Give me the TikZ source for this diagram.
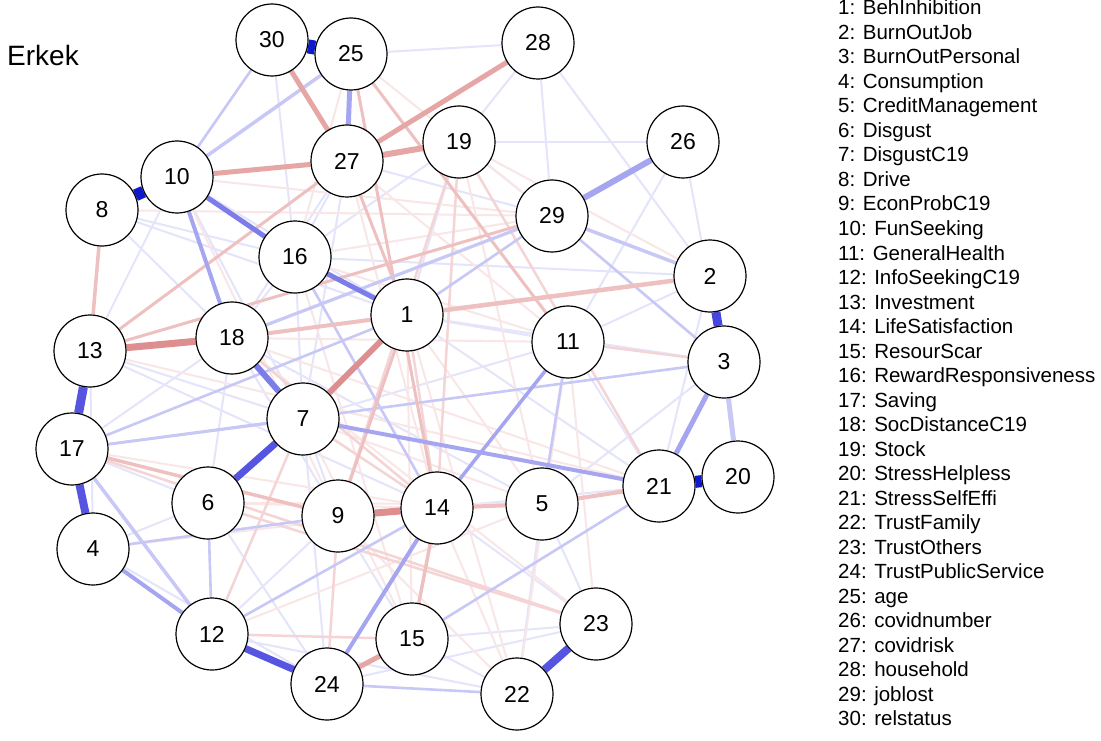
\documentclass[tikz,border=0pt]{standalone}
\usepackage{fontspec}
\setmainfont{Liberation Sans}
\pgfdeclarelayer{bg}
\pgfdeclarelayer{edges}
\pgfsetlayers{bg,edges,main}
\definecolor{b0}{RGB}{70,70,225}
\definecolor{b1}{RGB}{15,25,205}
\definecolor{b2}{RGB}{85,85,226}
\definecolor{b3}{RGB}{125,125,233}
\definecolor{b4}{RGB}{165,165,240}
\definecolor{b5}{RGB}{200,200,246}
\definecolor{b6}{RGB}{228,228,250}
\definecolor{r2}{RGB}{222,142,142}
\definecolor{r3}{RGB}{230,166,166}
\definecolor{r4}{RGB}{238,192,192}
\definecolor{r5}{RGB}{244,212,212}
\definecolor{r6}{RGB}{249,230,230}
\begin{document}
\begin{tikzpicture}[x=1pt,y=-1pt,
  nd/.style={circle,draw=black,line width=1.2pt,fill=white,minimum size=72pt,inner sep=0pt,font=\fontsize{23}{23}\selectfont},
  e/.style 2 args={draw=#1,line width=#2pt},
  leg/.style={anchor=base west,inner sep=0pt,font=\fontsize{20.5}{20.5}\selectfont}]
\useasboundingbox (0,0) rectangle (1101,741);
\begin{pgfonlayer}{bg}
\fill[white] (0,0) rectangle (1101,741);
\end{pgfonlayer}
% nodes
\node[nd] (n1) at (407,315) {1};
\node[nd] (n2) at (710,276) {2};
\node[nd] (n3) at (724,362) {3};
\node[nd] (n4) at (93,549) {4};
\node[nd] (n5) at (542,504) {5};
\node[nd] (n6) at (208,503) {6};
\node[nd] (n7) at (303,419) {7};
\node[nd] (n8) at (102,210) {8};
\node[nd] (n9) at (338,516) {9};
\node[nd] (n10) at (177,177) {10};
\node[nd] (n11) at (568,342) {11};
\node[nd] (n12) at (212,634) {12};
\node[nd] (n13) at (90,351) {13};
\node[nd] (n14) at (437,508) {14};
\node[nd] (n15) at (412,639) {15};
\node[nd] (n16) at (295,257) {16};
\node[nd] (n17) at (72,449) {17};
\node[nd] (n18) at (232,338) {18};
\node[nd] (n19) at (459,142) {19};
\node[nd] (n20) at (738,477) {20};
\node[nd] (n21) at (659,486) {21};
\node[nd] (n22) at (517,694) {22};
\node[nd] (n23) at (596,624) {23};
\node[nd] (n24) at (327,684) {24};
\node[nd] (n25) at (351,54) {25};
\node[nd] (n26) at (683,142) {26};
\node[nd] (n27) at (347,161) {27};
\node[nd] (n28) at (538,43) {28};
\node[nd] (n29) at (552,216) {29};
\node[nd] (n30) at (272,40) {30};
\node[anchor=base west,inner sep=0pt,font=\fontsize{28}{28}\selectfont] (title) at (7,66) {Erkek};
% legend
\foreach \i/\t in {1/BehInhibition,2/BurnOutJob,3/BurnOutPersonal,4/Consumption,5/CreditManagement,6/Disgust,7/DisgustC19,8/Drive,9/EconProbC19,10/FunSeeking,11/GeneralHealth,12/InfoSeekingC19,13/Investment,14/LifeSatisfaction,15/ResourScar,16/RewardResponsiveness,17/Saving,18/SocDistanceC19,19/Stock,20/StressHelpless,21/StressSelfEffi,22/TrustFamily,23/TrustOthers,24/TrustPublicService,25/age,26/covidnumber,27/covidrisk,28/household,29/joblost,30/relstatus}
  \node[leg] (l\i) at (838,{15+(\i-1)*24.5}) {\i: \t};
\begin{pgfonlayer}{edges}
% faint edges
\foreach \a/\b in {8/18,8/16,10/13,13/7,13/4,17/18,4/6,6/18,16/18,27/16,27/18,27/7,19/16,19/1,19/29,28/29,28/19,26/3,26/11,2/11,2/21,3/5,11/21,5/22,5/23,15/22,15/23,9/12,6/24,7/9,7/24,1/11,1/21,18/9,16/7,10/1,8/1,14/21,14/23,9/15,24/23,30/16,19/26,28/2,25/28,13/14,17/6,4/24,12/22,18/5,7/11,1/3,16/2,27/29,10/7}
  \draw[e={b6}{2}] (n\a) -- (n\b);
\foreach \a/\b in {8/29,10/29,16/29,18/11,16/11,7/5,7/15,6/14,6/5,17/14,13/21,18/21,1/5,1/15,11/22,11/23,9/22,14/22,27/11,25/29,19/2,12/5,4/14,10/9,25/16,27/14,19/5,16/15,18/23,1/22}
  \draw[e={r6}{2}] (n\a) -- (n\b);
% light edges
\foreach \a/\b in {11/3,12/7,12/15,24/9,6/23,19/9,19/21,19/14,7/14,18/14,1/14,17/23}
  \draw[e={r5}{2.5}] (n\a) -- (n\b);
\foreach \a/\b in {30/10,21/15,11/5,17/3,17/7,1/29,12/6,4/9,12/14,24/22,16/14,29/3,17/1}
  \draw[e={b5}{2.6}] (n\a) -- (n\b);
% medium edges
\draw[e={r4}{4.5}] (n1) -- (n2);
\draw[e={r4}{4}] (n18) -- (n1);
\draw[e={r4}{4}] (n14) -- (n5);
\draw[e={r4}{4}] (n5) -- (n21);
\draw[e={r4}{3.5}] (n14) -- (n15);
\draw[e={r4}{3.5}] (n17) -- (n9);
\draw[e={r4}{3.5}] (n8) -- (n13);
\draw[e={r4}{3}] (n13) -- (n27);
\draw[e={r4}{3}] (n13) -- (n29);
\draw[e={r4}{3}] (n27) -- (n1);
\draw[e={r4}{3}] (n1) -- (n9);
\draw[e={r4}{3}] (n25) -- (n14);
\draw[e={r4}{3}] (n25) -- (n11);
\draw[e={b5}{3.5}] (n17) -- (n12);
\draw[e={b5}{3.5}] (n29) -- (n2);
\draw[e={b5}{3.2}] (n18) -- (n29);
\draw[e={b5}{3.5}] (n25) -- (n10);
\draw[e={b4}{4}] (n10) -- (n18);
\draw[e={b4}{4}] (n14) -- (n24);
\draw[e={b4}{4}] (n7) -- (n21);
\draw[e={b4}{3.5}] (n11) -- (n14);
\draw[e={b4}{4}] (n4) -- (n12);
\draw[e={b4}{6}] (n29) -- (n26);
\draw[e={b4}{5}] (n3) -- (n21);
\draw[e={b5}{5}] (n3) -- (n20);
\draw[e={b4}{5}] (n25) -- (n27);
\draw[e={r3}{5}] (n30) -- (n27);
\draw[e={r3}{5}] (n24) -- (n15);
\draw[e={r3}{6}] (n27) -- (n19);
\draw[e={r3}{5}] (n27) -- (n28);
\draw[e={r3}{5}] (n10) -- (n27);
\draw[e={b3}{5}] (n10) -- (n16);
\draw[e={b3}{5}] (n16) -- (n1);
% strong edges
\draw[e={r2}{7}] (n13) -- (n18);
\draw[e={r2}{6}] (n1) -- (n7);
\draw[e={r2}{7}] (n9) -- (n14);
\draw[e={b3}{6}] (n18) -- (n7);
\draw[e={b2}{7}] (n7) -- (n6);
\draw[e={b2}{7}] (n12) -- (n24);
\draw[e={b2}{8}] (n23) -- (n22);
\draw[e={b2}{8}] (n17) -- (n4);
\draw[e={b2}{9}] (n13) -- (n17);
\draw[e={b0}{9}] (n2) -- (n3);
\draw[e={b1}{12}] (n20) -- (n21);
\draw[e={b1}{12}] (n8) -- (n10);
\draw[e={b1}{14}] (n30) -- (n25);
\end{pgfonlayer}
\end{tikzpicture}
\end{document}
